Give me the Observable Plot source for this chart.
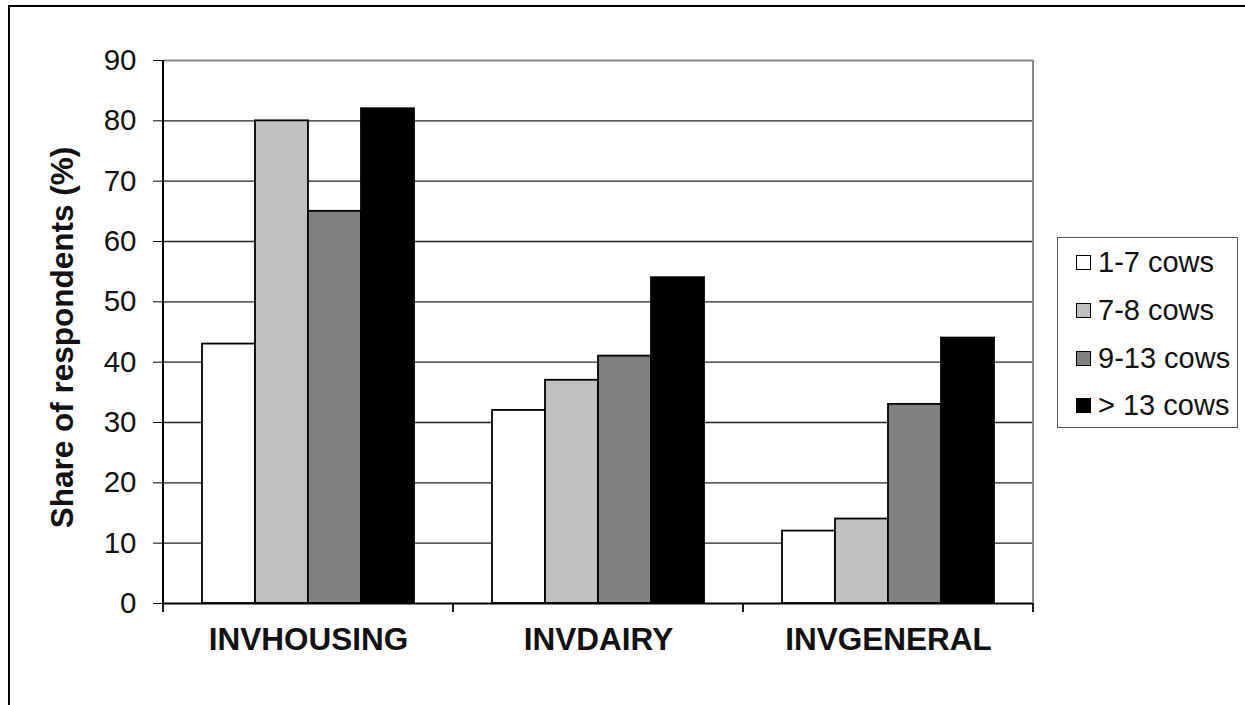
<!DOCTYPE html>
<html>
<head>
<meta charset="utf-8">
<script src="https://cdn.jsdelivr.net/npm/d3@7"></script>
<script src="https://cdn.jsdelivr.net/npm/@observablehq/plot@0.6"></script>
<style>
  html, body { margin: 0; padding: 0; background: #fff; }
  #wrap { position: relative; width: 1245px; height: 705px; overflow: hidden; font-family: "Liberation Sans", Arial, sans-serif; }
  #frame { position: absolute; left: 8px; top: 5px; width: 1300px; height: 800px; border-top: 2px solid #000; border-left: 2px solid #000; }
  #chart { position: absolute; left: 0; top: 0; }
  #legend { position: absolute; left: 1057px; top: 237px; width: 181px; height: 191px; border: 1.5px solid #555; box-sizing: border-box; background: #fff; padding-top: 1px; }
  .item { display: flex; align-items: center; height: 47.7px; padding-left: 18px; font-size: 29px; color: #111; }
  .sw { width: 13px; height: 13px; border: 1.5px solid #000; margin-right: 7px; flex: none; }
</style>
</head>
<body>
<div id="wrap">
  <div id="frame"></div>
  <div id="chart"></div>
  <div id="legend"></div>
</div>
<script>
const categories = ["INVHOUSING", "INVDAIRY", "INVGENERAL"];
const groups = ["1-7 cows", "7-8 cows", "9-13 cows", "> 13 cows"];
const colors = ["#ffffff", "#c0c0c0", "#808080", "#000000"];
const valuesByGroup = {
  "1-7 cows": [43, 32, 12],
  "7-8 cows": [80, 37, 14],
  "9-13 cows": [65, 41, 33],
  "> 13 cows": [82, 54, 44]
};
const yTicks = [0, 10, 20, 30, 40, 50, 60, 70, 80, 90];
const yLabel = "Share of respondents (%)";

const rows = [];
categories.forEach((c, i) => groups.forEach(g => rows.push({category: c, group: g, value: valuesByGroup[g][i]})));

const plot = Plot.plot({
  width: 1245,
  height: 705,
  marginLeft: 163,
  marginRight: 212,
  marginTop: 60,
  marginBottom: 102,
  style: {fontFamily: "'Liberation Sans', Arial, sans-serif", background: "transparent", color: "#111"},
  fx: {domain: categories, padding: 0, label: null},
  x: {domain: groups, paddingInner: 0, paddingOuter: 0.72, axis: null},
  y: {domain: [0, 90], label: null},
  color: {domain: groups, range: colors},
  marks: [
    Plot.ruleY(yTicks.filter(t => t > 0 && t < 90), {stroke: "#222", strokeWidth: 1.3}),
    Plot.ruleY([90], {stroke: "#888", strokeWidth: 1.8}),
    Plot.barY(rows, {fx: "category", x: "group", y: "value", fill: "group", stroke: "#000", strokeWidth: 1.8, inset: 0}),
    Plot.ruleY([0], {stroke: "#000", strokeWidth: 2}),
    Plot.axisY({ticks: yTicks, tickSize: 10, tickPadding: 17, fontSize: 29.5, label: null, stroke: "#000"}),
    Plot.axisFx({anchor: "bottom", tickSize: 0, tickPadding: 24, fontSize: 31.5, fontWeight: "bold", label: null})
  ]
});
document.getElementById("chart").appendChild(plot);

// frame lines and category boundary ticks from the library's scales
const fx = plot.scale("fx"), y = plot.scale("y");
const svg = d3.select(plot);
const y0 = y.apply(0), y90 = y.apply(90);
const left = fx.apply(categories[0]);
const right = fx.apply(categories[categories.length - 1]) + fx.bandwidth;
const g = svg.append("g");
g.append("line").attr("x1", right).attr("x2", right).attr("y1", y90).attr("y2", y0).attr("stroke", "#888").attr("stroke-width", 2);
g.append("line").attr("x1", left).attr("x2", left).attr("y1", y90).attr("y2", y0).attr("stroke", "#000").attr("stroke-width", 2);
const edges = categories.map(c => fx.apply(c)).concat([right]);
edges.forEach(xp => g.append("line").attr("x1", xp).attr("x2", xp).attr("y1", y0).attr("y2", y0 + 9).attr("stroke", "#000").attr("stroke-width", 1.8));
svg.append("text")
  .attr("transform", `translate(62,${(y0 + y90) / 2 + 6}) rotate(-90)`)
  .attr("text-anchor", "middle").attr("dy", "0.35em")
  .attr("font-size", 31.5).attr("font-weight", "bold").attr("fill", "#111")
  .text(yLabel);
svg.selectAll('[aria-label="fx-axis tick label"] text').attr("font-weight", "bold");

// legend
const legend = d3.select("#legend");
groups.forEach((gname, i) => {
  const it = legend.append("div").attr("class", "item");
  it.append("div").attr("class", "sw").style("background", colors[i]);
  it.append("span").text(gname);
});
</script>
</body>
</html>
